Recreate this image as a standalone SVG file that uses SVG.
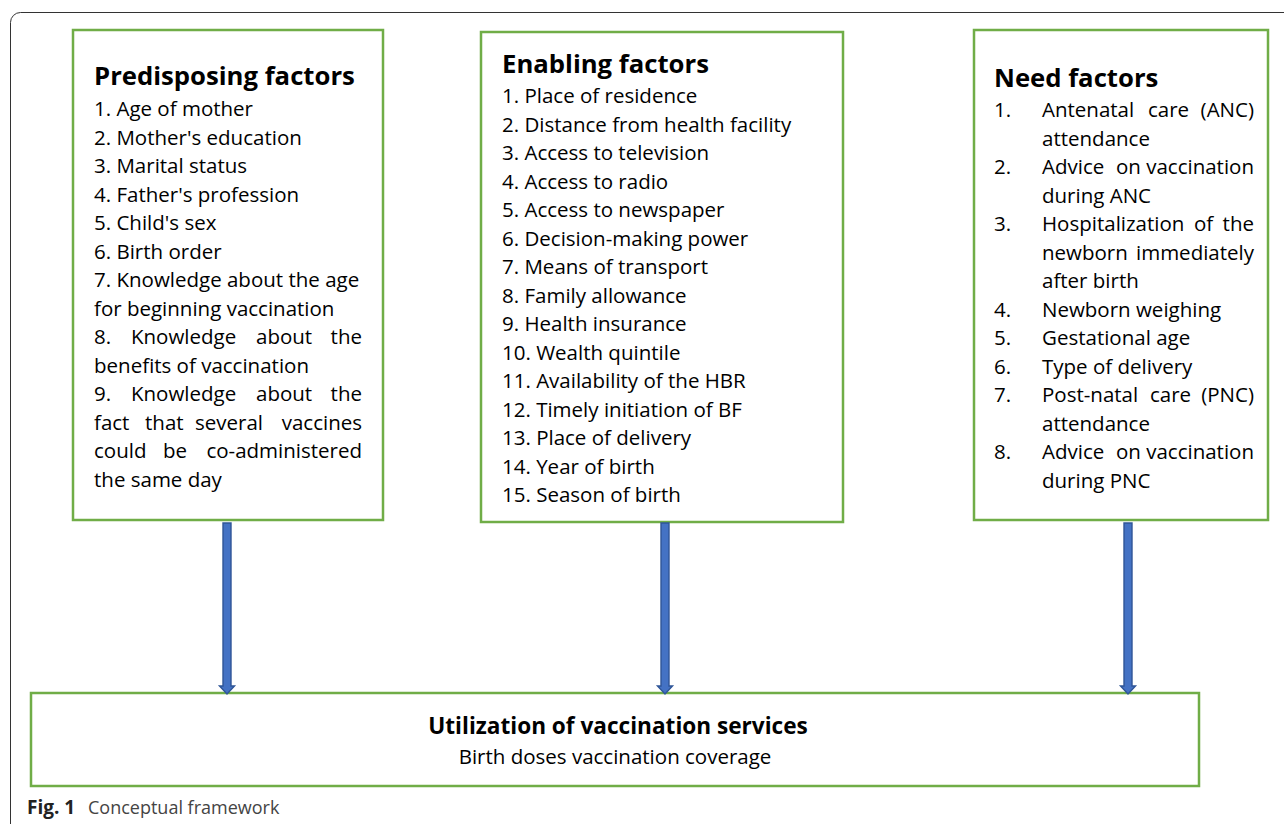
<svg xmlns="http://www.w3.org/2000/svg" width="1284" height="824" viewBox="0 0 1284 824">
<style>
.box{fill:#fff;stroke:#70AD47;stroke-width:2.5}
.h{font-family:"Open Sans","Noto Sans",sans-serif;font-weight:bold;font-size:25.7px;fill:#000}
.t{font-family:"Open Sans","Noto Sans",sans-serif;font-size:20.5px;fill:#000}
.arr{fill:#4472C4;stroke:#2F5597;stroke-width:1.4}
.cap{font-family:"Open Sans","Noto Sans",sans-serif;font-size:18px;fill:#444}
.e{text-anchor:end}
</style>
<rect x="10.5" y="12.5" width="1300" height="840" rx="10" fill="none" stroke="#333" stroke-width="1"/>

<g id="predisposing">
<rect class="box" x="73" y="30" width="310" height="490"/>
<text class="h" x="94" y="85">Predisposing factors</text>
<text class="t" x="94" y="116">1. Age of mother</text>
<text class="t" x="94" y="144.5">2. Mother's education</text>
<text class="t" x="94" y="173">3. Marital status</text>
<text class="t" x="94" y="201.5">4. Father's profession</text>
<text class="t" x="94" y="230">5. Child's sex</text>
<text class="t" x="94" y="258.5">6. Birth order</text>
<text class="t" x="94" y="287">7. Knowledge about the age</text>
<text class="t" x="94" y="315.5">for beginning vaccination</text>
<text class="t" y="344"><tspan x="94">8.</tspan><tspan x="131">Knowledge</tspan><tspan x="256">about</tspan><tspan x="362" class="e">the</tspan></text>
<text class="t" x="94" y="372.5">benefits of vaccination</text>
<text class="t" y="401"><tspan x="94">9.</tspan><tspan x="131">Knowledge</tspan><tspan x="256">about</tspan><tspan x="362" class="e">the</tspan></text>
<text class="t" y="429.5"><tspan x="94">fact</tspan><tspan x="145">that</tspan><tspan x="195">several</tspan><tspan x="362" class="e">vaccines</tspan></text>
<text class="t" y="458"><tspan x="94">could</tspan><tspan x="163">be</tspan><tspan x="362" class="e">co-administered</tspan></text>
<text class="t" x="94" y="486.5">the same day</text>
</g>

<g id="enabling">
<rect class="box" x="481" y="32" width="362" height="490"/>
<text class="h" x="502" y="73">Enabling factors</text>
<text class="t" x="502" y="103">1. Place of residence</text>
<text class="t" x="502" y="131.5">2. Distance from health facility</text>
<text class="t" x="502" y="160">3. Access to television</text>
<text class="t" x="502" y="188.5">4. Access to radio</text>
<text class="t" x="502" y="217">5. Access to newspaper</text>
<text class="t" x="502" y="245.5">6. Decision-making power</text>
<text class="t" x="502" y="274">7. Means of transport</text>
<text class="t" x="502" y="302.5">8. Family allowance</text>
<text class="t" x="502" y="331">9. Health insurance</text>
<text class="t" x="502" y="359.5">10. Wealth quintile</text>
<text class="t" x="502" y="388">11. Availability of the HBR</text>
<text class="t" x="502" y="416.5">12. Timely initiation of BF</text>
<text class="t" x="502" y="445">13. Place of delivery</text>
<text class="t" x="502" y="473.5">14. Year of birth</text>
<text class="t" x="502" y="502">15. Season of birth</text>
</g>

<g id="need">
<rect class="box" x="974" y="30" width="294" height="490"/>
<text class="h" x="994" y="87">Need factors</text>
<text class="t" x="994" y="117">1.</text>
<text class="t" y="117"><tspan x="1042">Antenatal</tspan><tspan x="1148">care</tspan><tspan x="1254" class="e">(ANC)</tspan></text>
<text class="t" x="1042" y="145.5">attendance</text>
<text class="t" x="994" y="174">2.</text>
<text class="t" y="174"><tspan x="1042">Advice</tspan><tspan x="1116">on</tspan><tspan x="1254" class="e">vaccination</tspan></text>
<text class="t" x="1042" y="202.5">during ANC</text>
<text class="t" x="994" y="231">3.</text>
<text class="t" y="231"><tspan x="1042">Hospitalization</tspan><tspan x="1194">of</tspan><tspan x="1254" class="e">the</tspan></text>
<text class="t" y="259.5"><tspan x="1042">newborn</tspan><tspan x="1254" class="e">immediately</tspan></text>
<text class="t" x="1042" y="288">after birth</text>
<text class="t" x="994" y="316.5">4.</text>
<text class="t" x="1042" y="316.5">Newborn weighing</text>
<text class="t" x="994" y="345">5.</text>
<text class="t" x="1042" y="345">Gestational age</text>
<text class="t" x="994" y="373.5">6.</text>
<text class="t" x="1042" y="373.5">Type of delivery</text>
<text class="t" x="994" y="402">7.</text>
<text class="t" y="402"><tspan x="1042">Post-natal</tspan><tspan x="1150">care</tspan><tspan x="1254" class="e">(PNC)</tspan></text>
<text class="t" x="1042" y="430.5">attendance</text>
<text class="t" x="994" y="459">8.</text>
<text class="t" y="459"><tspan x="1042">Advice</tspan><tspan x="1116">on</tspan><tspan x="1254" class="e">vaccination</tspan></text>
<text class="t" x="1042" y="487.5">during PNC</text>
</g>

<g id="utilization">
<rect class="box" x="31" y="693" width="1168" height="93"/>
<text class="h" x="618" y="734" text-anchor="middle" style="font-size:22.6px">Utilization of vaccination services</text>
<text class="t" x="615" y="764" text-anchor="middle">Birth doses vaccination coverage</text>
</g>

<g id="connectors">
<path class="arr" d="M223,523 H231 V686 H234.5 L227,694 L219.5,686 H223 Z"/>
<path class="arr" d="M661,523 H669 V686 H672.5 L665,694 L657.5,686 H661 Z"/>
<path class="arr" d="M1124,523 H1132 V686 H1135.5 L1128,694 L1120.5,686 H1124 Z"/>
</g>

<g id="caption">
<text class="cap" x="27" y="814"><tspan font-weight="bold" fill="#222" font-size="19px">Fig. 1</tspan><tspan x="88">Conceptual framework</tspan></text>
</g>
</svg>
